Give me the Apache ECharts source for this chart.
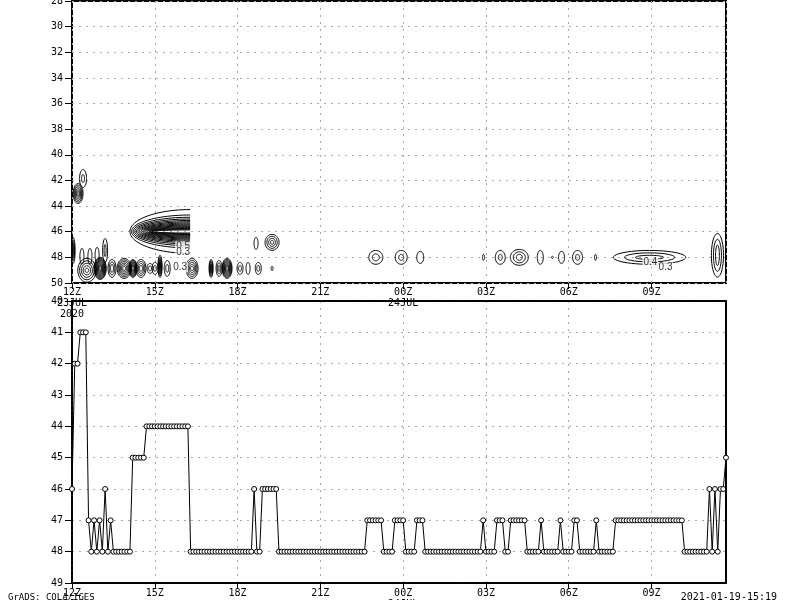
<!DOCTYPE html>
<html>
<head>
<meta charset="utf-8">
<script src="https://cdn.jsdelivr.net/npm/echarts@6/dist/echarts.min.js"></script>
<style>
html,body{margin:0;padding:0;background:#fff;}
#chart{width:800px;height:600px;}
</style>
</head>
<body>
<div id="chart"></div>
<script>
// ---------- DATA ----------
// time axis: hours after 12Z 23 JUL 2020, one sample every 6 minutes
const sampleStepHours = 0.1;
const axisMaxHours = 23.7;

// x tick labels (every 3 hours)
const xTickHours  = [0, 3, 6, 9, 12, 15, 18, 21];
const xTickLabels = ['12Z\n23JUL\n2020', '15Z', '18Z', '21Z', '00Z\n24JUL', '03Z', '06Z', '09Z'];

// lower panel: level index per 6-minute sample (238 samples, 12Z 23JUL .. 11:42Z 24JUL)
const levelSeries = [
  46,42,42,41,41,41,47,48,47,48,
  47,48,46,48,47,48,48,48,48,48,
  48,48,45,45,45,45,45,44,44,44,
  44,44,44,44,44,44,44,44,44,44,
  44,44,44,48,48,48,48,48,48,48,
  48,48,48,48,48,48,48,48,48,48,
  48,48,48,48,48,48,46,48,48,46,
  46,46,46,46,46,48,48,48,48,48,
  48,48,48,48,48,48,48,48,48,48,
  48,48,48,48,48,48,48,48,48,48,
  48,48,48,48,48,48,48,47,47,47,
  47,47,47,48,48,48,48,47,47,47,
  47,48,48,48,48,47,47,47,48,48,
  48,48,48,48,48,48,48,48,48,48,
  48,48,48,48,48,48,48,48,48,47,
  48,48,48,48,47,47,47,48,48,47,
  47,47,47,47,47,48,48,48,48,48,
  47,48,48,48,48,48,48,47,48,48,
  48,48,47,47,48,48,48,48,48,48,
  47,48,48,48,48,48,48,47,47,47,
  47,47,47,47,47,47,47,47,47,47,
  47,47,47,47,47,47,47,47,47,47,
  47,47,48,48,48,48,48,48,48,48,
  48,46,48,46,48,46,46,45
];

// upper panel contour cells: [hours, level, contour count,
//   outer half-width (h), outer half-height (lev), inner half-width (h), inner half-height (lev), open-right (1) / closed (0)]
const contourCells = [
  [0.40, 41.85, 2, 0.127, 0.70, 0.054, 0.31, 0],
  [0.22, 43.02, 6, 0.180, 0.78, 0.036, 0.16, 0],
  [0.04, 47.46, 4, 0.073, 1.01, 0.018, 0.39, 0],
  [4.28, 45.98, 15, 2.18, 1.71, 1.38, 0.12, 1],
  [0.54, 49.01, 5, 0.330, 0.93, 0.070, 0.16, 0],
  [1.02, 48.86, 10, 0.220, 0.86, 0.036, 0.16, 0],
  [0.36, 47.92, 1, 0.073, 0.62, 0.073, 0.62, 0],
  [0.65, 47.92, 1, 0.073, 0.62, 0.073, 0.62, 0],
  [0.91, 47.84, 1, 0.073, 0.62, 0.073, 0.62, 0],
  [1.20, 47.46, 2, 0.090, 0.93, 0.036, 0.47, 0],
  [1.45, 48.86, 3, 0.145, 0.70, 0.054, 0.31, 0],
  [1.89, 48.86, 6, 0.254, 0.78, 0.054, 0.16, 0],
  [2.21, 48.86, 8, 0.145, 0.70, 0.036, 0.16, 0],
  [2.50, 48.86, 4, 0.180, 0.70, 0.054, 0.23, 0],
  [2.83, 48.86, 2, 0.109, 0.39, 0.054, 0.19, 0],
  [3.01, 48.86, 2, 0.109, 0.47, 0.054, 0.23, 0],
  [3.19, 48.70, 6, 0.073, 0.86, 0.018, 0.23, 0],
  [3.45, 48.86, 2, 0.109, 0.62, 0.054, 0.31, 0],
  [4.35, 48.86, 5, 0.218, 0.78, 0.054, 0.16, 0],
  [5.04, 48.86, 5, 0.073, 0.70, 0.018, 0.23, 0],
  [5.33, 48.86, 3, 0.109, 0.62, 0.036, 0.23, 0],
  [5.62, 48.86, 8, 0.180, 0.78, 0.036, 0.16, 0],
  [6.09, 48.86, 2, 0.109, 0.47, 0.054, 0.23, 0],
  [6.38, 48.86, 1, 0.073, 0.47, 0.073, 0.47, 0],
  [6.75, 48.86, 2, 0.109, 0.47, 0.054, 0.23, 0],
  [7.25, 48.86, 1, 0.036, 0.16, 0.036, 0.16, 0],
  [6.67, 46.91, 1, 0.073, 0.47, 0.073, 0.47, 0],
  [7.25, 46.83, 4, 0.254, 0.62, 0.054, 0.16, 0],
  [11.01, 48.0, 2, 0.254, 0.54, 0.127, 0.27, 0],
  [11.93, 48.0, 2, 0.218, 0.54, 0.090, 0.23, 0],
  [12.62, 48.0, 1, 0.127, 0.47, 0.127, 0.47, 0],
  [14.91, 48.0, 1, 0.036, 0.23, 0.036, 0.23, 0],
  [15.52, 48.0, 2, 0.180, 0.54, 0.073, 0.23, 0],
  [16.21, 48.0, 3, 0.326, 0.62, 0.109, 0.23, 0],
  [16.97, 48.0, 1, 0.109, 0.54, 0.109, 0.54, 0],
  [17.41, 48.0, 1, 0.036, 0.08, 0.036, 0.08, 0],
  [17.74, 48.0, 1, 0.109, 0.47, 0.109, 0.47, 0],
  [18.32, 48.0, 2, 0.180, 0.54, 0.073, 0.23, 0],
  [18.97, 48.0, 1, 0.036, 0.23, 0.036, 0.23, 0],
  [20.93, 48.0, 3, 1.31, 0.54, 0.51, 0.16, 0],
  [23.39, 47.84, 3, 0.22, 1.70, 0.07, 0.80, 0]
];

// contour labels: [hours, level, text]
const contourLabels = [
  [4.03, 47.14, '0.5'],
  [4.03, 47.61, '0.3'],
  [3.92, 48.78, '0.3'],
  [20.96, 48.39, '0.4'],
  [21.51, 48.78, '0.3']
];

// ---------- CHART ----------
const FONT = 'DejaVu Sans Mono';
const gridLine = {show: true, lineStyle: {color: '#a8a8a8', width: 1, type: [2, 5]}};
function xLabel(v) {
  const i = xTickHours.indexOf(Math.round(v * 1000) / 1000);
  return i >= 0 ? xTickLabels[i] : '';
}

function renderContours(params, api) {
  const t = api.value(0), L = api.value(1), n = api.value(2);
  const c = api.coord([t, L]);
  const so = api.size([api.value(3), api.value(4)]).map(Math.abs);
  const si = api.size([api.value(5), api.value(6)]).map(Math.abs);
  const open = api.value(7) === 1;
  const children = [];
  const N = 48;
  for (let k = 0; k < n; k++) {
    const f = n === 1 ? 0 : k / (n - 1);
    const fy = open ? Math.sqrt(f) : f;
    const rx = so[0] + (si[0] - so[0]) * f;
    const ry = so[1] + (si[1] - so[1]) * fy;
    const pts = [];
    if (open) {
      for (let j = 0; j <= N; j++) {
        const a = Math.PI / 2 + Math.PI * j / N;
        pts.push([c[0] + rx * Math.cos(a), c[1] + ry * Math.sin(a)]);
      }
      children.push({type: 'polyline', shape: {points: pts}, style: {stroke: '#000', fill: null, lineWidth: 1}});
    } else {
      for (let j = 0; j < N; j++) {
        const a = 2 * Math.PI * j / N;
        pts.push([c[0] + rx * Math.cos(a), c[1] + ry * Math.sin(a)]);
      }
      children.push({type: 'polygon', shape: {points: pts}, style: {stroke: '#000', fill: null, lineWidth: 1}});
    }
  }
  return {type: 'group', children: children};
}

const chart = echarts.init(document.getElementById('chart'), null, {renderer: 'canvas'});
const axisText = {fontFamily: FONT, fontSize: 10, color: '#000'};

chart.setOption({
  animation: false,
  backgroundColor: '#fff',
  title: [
    {text: 'GrADS: COLA/IGES', left: 3, top: 588, textStyle: {fontFamily: FONT, fontSize: 9, fontWeight: 'normal', color: '#000'}},
    {text: '2021-01-19-15:19', right: 18, top: 587, textStyle: {fontFamily: FONT, fontSize: 10, fontWeight: 'normal', color: '#000'}}
  ],
  grid: [
    {left: 72, top: 1, width: 654, height: 282, outerBoundsMode: 'none', containLabel: false,
     show: true, borderColor: '#000', borderWidth: 2, backgroundColor: 'transparent'},
    {left: 72, top: 301, width: 654, height: 282, outerBoundsMode: 'none', containLabel: false}
  ],
  xAxis: [
    {type: 'value', gridIndex: 0, min: 0, max: axisMaxHours, interval: 3,
     axisLine: {show: false}, axisTick: {show: true, length: 6, lineStyle: {color: '#000'}},
     axisLabel: Object.assign({formatter: xLabel, margin: 4, lineHeight: 11, showMaxLabel: false}, axisText),
     splitLine: gridLine},
    {type: 'value', gridIndex: 1, min: 0, max: axisMaxHours, interval: 3,
     axisLine: {show: true, onZero: false, lineStyle: {color: '#000', width: 2, type: [4, 1]}},
     axisTick: {show: true, length: 6, lineStyle: {color: '#000'}},
     axisLabel: Object.assign({formatter: xLabel, margin: 5, lineHeight: 11, showMaxLabel: false}, axisText),
     splitLine: gridLine},
    {type: 'value', gridIndex: 1, position: 'top', min: 0, max: axisMaxHours, interval: 3,
     axisLine: {show: true, onZero: false, lineStyle: {color: '#000', width: 2, type: [4, 1]}},
     axisTick: {show: false}, axisLabel: {show: false}, splitLine: {show: false}}
  ],
  yAxis: [
    {type: 'value', gridIndex: 0, inverse: true, min: 28, max: 50, interval: 2,
     axisLine: {show: false}, axisTick: {show: true, length: 7, lineStyle: {color: '#000'}},
     axisLabel: Object.assign({margin: 9}, axisText),
     splitLine: gridLine},
    {type: 'value', gridIndex: 1, inverse: true, min: 40, max: 49, interval: 1,
     axisLine: {show: true, onZero: false, lineStyle: {color: '#000', width: 2, type: [4, 1]}},
     axisTick: {show: true, length: 7, lineStyle: {color: '#000'}},
     axisLabel: Object.assign({margin: 9}, axisText),
     splitLine: gridLine},
    {type: 'value', gridIndex: 1, position: 'right', inverse: true, min: 40, max: 49, interval: 1,
     axisLine: {show: true, onZero: false, lineStyle: {color: '#000', width: 2}},
     axisTick: {show: false}, axisLabel: {show: false}, splitLine: {show: false}}
  ],
  series: [
    {type: 'custom', xAxisIndex: 0, yAxisIndex: 0, clip: true, silent: true,
     renderItem: renderContours, data: contourCells, z: 3},
    {type: 'scatter', xAxisIndex: 0, yAxisIndex: 0, symbolSize: 0, silent: true, z: 4,
     data: contourLabels.map(r => ({value: [r[0], r[1]], name: r[2]})),
     label: {show: true, position: 'inside', formatter: '{b}', fontFamily: 'Liberation Sans', fontSize: 10, color: '#000',
             backgroundColor: '#fff', padding: [0, 1]}},
    {type: 'line', xAxisIndex: 1, yAxisIndex: 1, clip: false, z: 5,
     data: levelSeries.map((v, i) => [i * sampleStepHours, v]),
     symbol: 'circle', symbolSize: 5, showSymbol: true, showAllSymbol: true,
     itemStyle: {color: '#fff', borderColor: '#000', borderWidth: 1},
     lineStyle: {color: '#000', width: 1}}
  ]
});
</script>
</body>
</html>
